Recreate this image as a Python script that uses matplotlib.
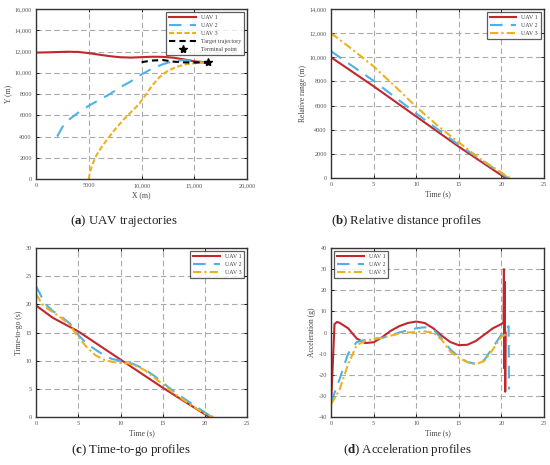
import matplotlib.pyplot as plt
from matplotlib.ticker import FuncFormatter

plt.rcParams['font.family'] = ['Liberation Serif', 'DejaVu Serif']
plt.rcParams['mathtext.fontset'] = 'custom'
plt.rcParams['mathtext.bf'] = 'Liberation Serif:bold'

RED = '#C1272D'
BLUE = '#4DB3E6'
YEL = '#EDB120'

# (a) trajectories (m)
uav1_x = [0, 1000, 2000, 3000, 4000, 5000, 6000, 7000, 8000, 9000, 10000, 11000, 12000, 13000, 14000, 15000, 16200]
uav1_y = [11900, 11920, 11950, 11980, 11960, 11850, 11700, 11560, 11460, 11430, 11470, 11510, 11500, 11420, 11260, 11080, 10950]
uav2_x = [2000, 2500, 3000, 4000, 5000, 6000, 7000, 8000, 9000, 10000, 11000, 12000, 13000, 14000, 15000, 16200]
uav2_y = [4000, 4900, 5500, 6250, 6900, 7450, 8000, 8650, 9200, 9850, 10400, 10800, 11100, 11200, 11120, 10950]
uav3_x = [5000, 5100, 5300, 5700, 6200, 6800, 7500, 8300, 9000, 9700, 10300, 11000, 11700, 12500, 13300, 14200, 15200, 16200]
uav3_y = [0, 600, 1300, 2200, 3000, 3800, 4700, 5600, 6300, 7000, 7800, 8800, 9600, 10200, 10550, 10800, 10920, 10950]
tgt_x = [10000, 11000, 12000, 13000, 14000, 15000, 16200]
tgt_y = [11000, 11150, 11200, 11050, 10980, 10970, 10950]
term_x, term_y = 16250, 10980

# (b) relative range (m)
t_r1 = [0, 5, 10, 15, 20.5]
r1 = [10000, 7600, 5100, 2600, 0]
t_r2 = [0, 5, 10, 15, 20.8]
r2 = [10500, 8050, 5350, 2750, 0]
t_r3 = [0, 2.5, 5, 7.5, 10, 12.5, 15, 17.5, 21]
r3 = [12000, 10650, 9250, 7600, 5900, 4350, 2950, 1600, 0]

# (c) time-to-go (s)
t_g1 = [0, 1, 2, 3, 4, 5, 10, 15, 20.5]
g1 = [19.8, 18.7, 17.6, 16.8, 16.0, 15.2, 10.2, 5.2, 0]
t_g2 = [0, 0.5, 1, 2, 3, 4, 5, 6, 7, 8, 9, 10, 11, 12, 13, 14, 15, 16, 17, 18, 19, 20, 20.8]
g2 = [23.2, 21.8, 20.2, 18.8, 17.8, 16.6, 14.6, 13.0, 12.0, 11.0, 10.3, 10.0, 9.7, 9.1, 8.3, 7.3, 6.1, 4.9, 3.8, 2.8, 1.8, 0.8, 0]
t_g3 = [0, 0.5, 1, 2, 3, 4, 5, 6, 7, 8, 9, 10, 11, 12, 13, 14, 15, 16, 17, 18, 19, 20, 21]
g3 = [21.8, 20.6, 19.6, 18.6, 17.6, 16.3, 14.2, 12.4, 11.0, 10.2, 9.8, 9.6, 9.5, 9.0, 8.2, 7.0, 5.8, 4.6, 3.5, 2.5, 1.5, 0.6, 0]

# (d) acceleration (g)
t_a1 = [0, 0.2, 0.4, 0.7, 1, 2, 3, 4, 5, 6, 7, 8, 9, 10, 11, 12, 13, 14, 15, 16, 17, 18, 19, 20, 20.25, 20.3, 20.35, 20.4, 20.45, 20.5]
a1 = [-33, -15, 4.0, 5.0, 4.6, 2.0, -2.8, -5.0, -4.6, -2.2, 0.8, 3.0, 4.5, 5.2, 4.5, 2.0, -1.5, -4.5, -6.0, -5.8, -4.0, -1.0, 2.0, 4.0, 4.8, 30, -17, 24, -28, 0]
t_a2 = [0, 1, 2, 3, 4, 5, 6, 7, 8, 9, 10, 11, 12, 13, 14, 15, 16, 17, 18, 19, 20, 20.5, 20.85, 20.9]
a2 = [-33, -22, -10, -4.5, -3.5, -3.0, -2.5, -1.5, 0.0, 1.0, 2.0, 2.5, 1.5, -3.0, -8.0, -11.5, -14.0, -14.8, -13.0, -7.0, -1.0, 2.0, 3.0, -27]
t_a3 = [0, 1, 2, 3, 4, 5, 6, 7, 8, 9, 10, 11, 12, 13, 14, 15, 16, 17, 18, 19, 20, 21]
a3 = [-34, -27, -15, -6, -4.0, -3.0, -2.5, -1.5, -0.5, 0.0, 0.2, 0.5, 0.0, -3.5, -9.0, -12.0, -14.0, -15.0, -13.5, -8.0, -2.0, 0.0]


def fmt(v, pos):
    v = int(round(v))
    return f"{v:,}" if abs(v) >= 10000 else str(v)


def style(ax, xlabel, ylabel):
    ax.grid(True, color='#aaaaaa', ls=(0, (5, 3)), lw=0.8)
    ax.set_axisbelow(True)
    for s in ax.spines.values():
        s.set_color('#333333')
        s.set_linewidth(1.0)
    ax.tick_params(direction='in', length=2, width=0.6, labelsize=4.5,
                   labelcolor='#555555', top=True, right=True, pad=3)
    ax.set_xlabel(xlabel, fontsize=5.5, color='#444444', labelpad=2)
    ax.set_ylabel(ylabel, fontsize=5.5, color='#444444', labelpad=2)
    ax.xaxis.set_major_formatter(FuncFormatter(fmt))
    ax.yaxis.set_major_formatter(FuncFormatter(fmt))


def legend(ax, loc):
    lg = ax.legend(loc=loc, fontsize=4.3, frameon=True, fancybox=False,
                   handlelength=4.5, borderpad=0.5, labelspacing=0.45)
    lg.get_frame().set_edgecolor('#333333')
    lg.get_frame().set_linewidth(0.9)
    for t in lg.get_texts():
        t.set_color('#444444')


fig = plt.figure(figsize=(5.5, 4.65), dpi=100)
ax_a = fig.add_axes([0.0655, 0.615, 0.384, 0.3656])
ax_b = fig.add_axes([0.602, 0.617, 0.387, 0.3636])
ax_c = fig.add_axes([0.0655, 0.1032, 0.384, 0.3634])
ax_d = fig.add_axes([0.602, 0.1032, 0.387, 0.3634])

dash2 = (0, (6, 4))
dash3 = (0, (4, 1.5, 1, 1.5))

# (a)
ax_a.plot(uav1_x, uav1_y, color=RED, lw=1.5, label='UAV 1')
ax_a.plot(uav2_x, uav2_y, color=BLUE, lw=1.5, ls=dash2, label='UAV 2')
ax_a.plot(uav3_x, uav3_y, color=YEL, lw=1.5, ls=(0, (2.5, 1.2)), label='UAV 3')
ax_a.plot(tgt_x, tgt_y, color='black', lw=1.5, ls=(0, (3, 2)), label='Target trajectory')
ax_a.plot([term_x], [term_y], ls='none', marker='*', color='black', ms=6, label='Terminal point')
ax_a.set_xlim(0, 20000)
ax_a.set_ylim(0, 16000)
ax_a.set_xticks(range(0, 20001, 5000))
ax_a.set_yticks(range(0, 16001, 2000))
style(ax_a, 'X (m)', 'Y (m)')
legend(ax_a, 'upper right')

# (b)
ax_b.plot(t_r1, r1, color=RED, lw=1.5, label='UAV 1')
ax_b.plot(t_r2, r2, color=BLUE, lw=1.5, ls=dash2, label='UAV 2')
ax_b.plot(t_r3, r3, color=YEL, lw=1.5, ls=dash3, label='UAV 3')
ax_b.set_xlim(0, 25)
ax_b.set_ylim(0, 14000)
ax_b.set_yticks(range(0, 14001, 2000))
style(ax_b, 'Time (s)', 'Relative range (m)')
legend(ax_b, 'upper right')

# (c)
ax_c.plot(t_g1, g1, color=RED, lw=1.5, label='UAV 1')
ax_c.plot(t_g2, g2, color=BLUE, lw=1.5, ls=dash2, label='UAV 2')
ax_c.plot(t_g3, g3, color=YEL, lw=1.5, ls=dash3, label='UAV 3')
ax_c.set_xlim(0, 25)
ax_c.set_ylim(0, 30)
style(ax_c, 'Time (s)', 'Time-to-go (s)')
legend(ax_c, 'upper right')

# (d)
ax_d.plot(t_a1, a1, color=RED, lw=1.5, label='UAV 1')
ax_d.plot(t_a2, a2, color=BLUE, lw=1.5, ls=dash2, label='UAV 2')
ax_d.plot(t_a3, a3, color=YEL, lw=1.5, ls=dash3, label='UAV 3')
ax_d.set_xlim(0, 25)
ax_d.set_ylim(-40, 40)
ax_d.set_yticks(range(-40, 41, 10))
style(ax_d, 'Time (s)', 'Acceleration (g)')
legend(ax_d, 'upper left')

cap = dict(ha='center', va='center', fontsize=9.3, color='#222222')
fig.text(0.225, 0.525, r'($\mathbf{a}$) UAV trajectories', **cap)
fig.text(0.74, 0.525, r'($\mathbf{b}$) Relative distance profiles', **cap)
fig.text(0.238, 0.033, r'($\mathbf{c}$) Time-to-go profiles', **cap)
fig.text(0.74, 0.033, r'($\mathbf{d}$) Acceleration profiles', **cap)

fig.savefig('out.png', dpi=100)
